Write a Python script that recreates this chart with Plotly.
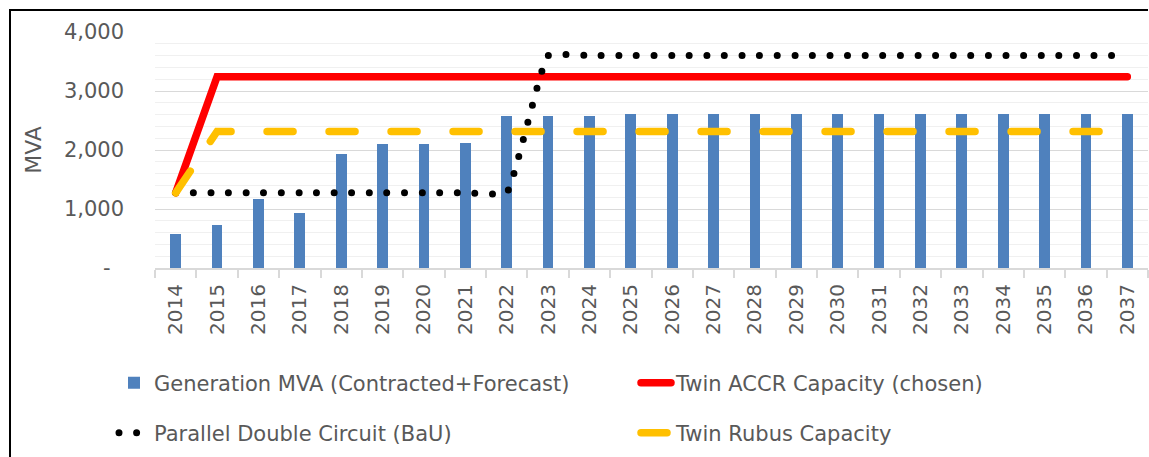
import plotly.graph_objects as go

years = [str(y) for y in range(2014, 2038)]
generation = [580, 730, 1175, 940, 1925, 2095, 2095, 2115, 2575, 2575, 2575,
              2615, 2615, 2615, 2615, 2615, 2615, 2615, 2615, 2615, 2615, 2615, 2615, 2615]
accr = [1275] + [3240] * 23
bau = [1275] * 9 + [3600] * 15
rubus = [1275] + [2315] * 23

y_tickvals = [0, 1000, 2000, 3000, 4000]
y_ticktext = ["-\u00a0\u00a0", "1,000", "2,000", "3,000", "4,000"]

FONT = "DejaVu Sans"
GREY = "#595959"

fig = go.Figure()
fig.add_trace(go.Bar(x=years, y=generation, name="Generation MVA (Contracted+Forecast)",
                     marker=dict(color="#4f81bd", line=dict(width=0)), width=0.26,
                     legend="legend"))
fig.add_trace(go.Scatter(x=years, y=accr, name="Twin ACCR Capacity (chosen)", mode="lines",
                         line=dict(color="#ff0000", width=7.5), legend="legend2"))
fig.add_trace(go.Scatter(x=years, y=bau, name="Parallel Double Circuit (BaU)", mode="lines",
                         line=dict(color="#000000", width=7, dash="0px,17.6px",
                                   shape="spline", smoothing=0.3),
                         legend="legend3"))
fig.add_trace(go.Scatter(x=years, y=rubus, name="Twin Rubus Capacity", mode="lines",
                         line=dict(color="#ffc000", width=7.5, dash="26px,36px"),
                         legend="legend4"))

L, W = 155, 993
T, H = 32, 236


def px_x(p):
    return (p - L) / W


def px_y(p):
    return (T + H - p) / H


def leg(xp, yp):
    return dict(orientation="h", x=px_x(xp), y=px_y(yp), xanchor="left", yanchor="middle",
                font=dict(family=FONT, size=21, color=GREY), bgcolor="rgba(0,0,0,0)",
                borderwidth=0)


fig.update_layout(
    width=1149, height=457,
    margin=dict(l=L, r=1149 - L - W, t=T, b=457 - T - H),
    paper_bgcolor="white", plot_bgcolor="white",
    font=dict(family=FONT, color=GREY, size=20),
    bargap=0,
    showlegend=True,
    legend=leg(114, 383),
    legend2=leg(636, 383),
    legend3=leg(114, 433),
    legend4=leg(636, 433),
    xaxis=dict(type="category", showline=True, linecolor="#d9d9d9", linewidth=2,
               ticks="outside", ticklen=8, tickcolor="#d9d9d9", tickwidth=1.5,
               tickson="boundaries", tickangle=-90, ticklabelstandoff=6,
               tickfont=dict(family=FONT, size=20, color=GREY),
               showgrid=False, zeroline=False),
    yaxis=dict(range=[0, 4000], tickvals=y_tickvals, ticktext=y_ticktext,
               tickfont=dict(family=FONT, size=21, color=GREY),
               ticklabelstandoff=30,
               showgrid=True, gridcolor="#d9d9d9", gridwidth=1.3,
               minor=dict(dtick=200, showgrid=True, gridcolor="#f0f0f0", gridwidth=1),
               zeroline=False, showline=False,
               title=dict(text="MVA", font=dict(family=FONT, size=22, color=GREY), standoff=16)),
    shapes=[
        dict(type="path", xref="paper", yref="paper",
             path="M {x0},{y0} L {x0},{y1} L {x1},{y1}".format(
                 x0=px_x(10), y0=-1.2, y1=px_y(10), x1=1.0),
             line=dict(color="black", width=2), layer="below"),
    ],
)

post = ("document.body.style.margin='0';document.body.style.overflow='hidden';"
        "var s=document.createElement('style');"
        "s.textContent='.js-line{stroke-linecap:round !important;}';"
        "document.head.appendChild(s);")

fig.write_html("out.html", post_script=post, config={"displayModeBar": False})
